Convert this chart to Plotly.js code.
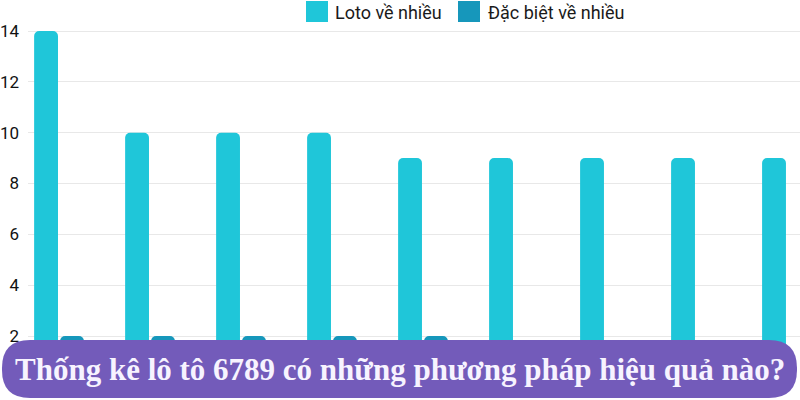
<!DOCTYPE html>
<html>
<head>
<meta charset="utf-8">
<script src="https://cdn.plot.ly/plotly-3.0.1.min.js"></script>
<style>
  html, body { margin: 0; padding: 0; background: #ffffff; }
  #chart { width: 800px; height: 400px; }
</style>
</head>
<body>
<div id="chart"></div>
<script>
// chart data
//
const categories = ['1', '2', '3', '4', '5', '6', '7', '8', '9'];
const lotoValues = [14, 10, 10, 10, 9, 9, 9, 9, 9];
const dacBietValues = [2, 2, 2, 2, 2, 0, 0, 0, 0];
const yTicks = [2, 4, 6, 8, 10, 12, 14];

const seriesNames = ['Loto về nhiều', 'Đặc biệt về nhiều'];
const seriesColors = ['#1fc6d9', '#1697bb'];
const bannerText = 'Thống kê lô tô 6789 có những phương pháp hiệu quả nào?';

// page geometry (pixels), used to place the banner and legend in paper units
//
const W = 800, H = 400;
const M = { l: 28, r: 0, t: 0, b: 0 };
const px2x = (px) => (px - M.l) / (W - M.l - M.r);
const px2y = (py) => (H - M.b - py) / (H - M.t - M.b);

// rounded banner outline built with quadratic corners
//
function bannerPath(x0, y0, x1, y1, r) {
  const p = (x, y) => px2x(x).toFixed(4) + ',' + px2y(y).toFixed(4);
  return 'M' + p(x0 + r, y0) +
    ' L' + p(x1 - r, y0) +
    ' Q' + p(x1, y0) + ' ' + p(x1, y0 + r) +
    ' L' + p(x1, y1 - r) +
    ' Q' + p(x1, y1) + ' ' + p(x1 - r, y1) +
    ' L' + p(x0 + r, y1) +
    ' Q' + p(x0, y1) + ' ' + p(x0, y1 - r) +
    ' L' + p(x0, y0 + r) +
    ' Q' + p(x0, y0) + ' ' + p(x0 + r, y0) + ' Z';
}

const traces = [
  {
    type: 'bar',
    name: seriesNames[0],
    x: categories,
    y: lotoValues,
    marker: { color: seriesColors[0], cornerradius: 5 },
    hoverinfo: 'none'
  },
  {
    type: 'bar',
    name: seriesNames[1],
    x: categories,
    y: dacBietValues,
    marker: { color: seriesColors[1], cornerradius: 5 },
    hoverinfo: 'none'
  }
];

// legend drawn as squares + labels at the top
//
const legendItems = [
  { sq: 306, txt: 333 },
  { sq: 458, txt: 486 }
];
const legendShapes = legendItems.map((it, i) => ({
  type: 'rect',
  xref: 'paper',
  yref: 'paper',
  x0: px2x(it.sq),
  x1: px2x(it.sq + 22),
  y0: px2y(1),
  y1: px2y(22),
  fillcolor: seriesColors[i],
  line: { width: 0 }
}));
const legendLabels = legendItems.map((it, i) => ({
  xref: 'paper',
  yref: 'paper',
  x: px2x(it.txt),
  y: px2y(12),
  xanchor: 'left',
  yanchor: 'middle',
  showarrow: false,
  text: seriesNames[i],
  font: { family: 'Roboto, sans-serif', size: 18, color: '#1a1a1a' }
}));

const layout = {
  width: W,
  height: H,
  margin: M,
  paper_bgcolor: '#ffffff',
  plot_bgcolor: '#ffffff',
  font: { family: 'Roboto, sans-serif', size: 15, color: '#1a1a1a' },
  barmode: 'group',
  bargap: 0.43,
  bargroupgap: 0.08,
  showlegend: false,
  xaxis: {
    type: 'category',
    range: [-0.341, 8.143],
    showgrid: false,
    zeroline: false,
    showline: false,
    showticklabels: false
  },
  yaxis: {
    range: [-0.518, 15.22],
    tickvals: yTicks,
    ticktext: yTicks.map(String),
    showgrid: true,
    gridcolor: '#e8e8e8',
    gridwidth: 1,
    zeroline: false,
    showline: false,
    ticks: '',
    ticklabelstandoff: 8,
    tickfont: { family: 'Roboto, sans-serif', size: 17, color: '#111111' }
  },
  shapes: legendShapes.concat([
    {
      type: 'path',
      xref: 'paper',
      yref: 'paper',
      path: bannerPath(2, 340, 797, 398, 28),
      fillcolor: '#735bba',
      line: { width: 0 },
      layer: 'above'
    }
  ]),
  annotations: legendLabels.concat([
    {
      xref: 'paper',
      yref: 'paper',
      x: px2x(400),
      y: px2y(369),
      xanchor: 'center',
      yanchor: 'middle',
      showarrow: false,
      text: '<b>' + bannerText + '</b>',
      font: { family: '"Liberation Serif", serif', size: 31, color: '#f7f3ff' }
    }
  ])
};

Plotly.newPlot('chart', traces, layout, { displayModeBar: false, staticPlot: true });
</script>
</body>
</html>
